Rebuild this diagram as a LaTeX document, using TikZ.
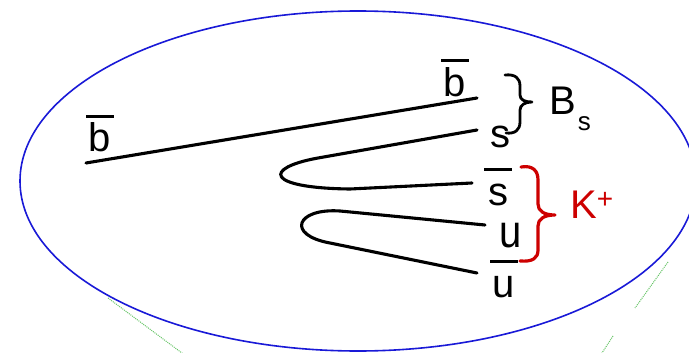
\documentclass[tikz,border=0pt]{standalone}
\usepackage{fontspec}
\setmainfont{Liberation Sans}
\usetikzlibrary{positioning}

\definecolor{bagblue}{RGB}{25,25,215}
\definecolor{kaonred}{RGB}{205,0,0}
\definecolor{dotgreen}{RGB}{100,195,100}

% 反夸克: 字母上方加一条横线
\newcommand{\qbar}[1]{\ooalign{\hfil#1\hfil\cr\hfil\rule[0.85em]{0.68em}{0.07em}\hfil\cr}}

\begin{document}
\begin{tikzpicture}[x=1pt,y=-1pt,
	quark/.style={line width=3.1pt, line cap=round, line join=round},
	curly/.style={line width=2.8pt, line cap=round, line join=round},
	qlabel/.style={font=\fontsize{40}{40}\selectfont, inner sep=0pt, anchor=base}]
	\useasboundingbox (0,0) rectangle (689,353);
	\clip (0,0) rectangle (689,353);

	% 1. 绿色虚点线 (在椭圆下面)
	\coordinate (gl1) at (108,298);
	\coordinate (gl2) at (186,356);
	\coordinate (gr1) at (668,262);
	\coordinate (gr2) at (635,308);
	\coordinate (gr3) at (613,336);
	\coordinate (gr4) at (600,356);
	\draw[dotgreen, densely dotted, line width=1pt] (gl1) -- (gl2);
	\draw[dotgreen, densely dotted, line width=1pt] (gr1) -- (gr2);
	\draw[dotgreen, densely dotted, line width=1pt] (gr3) -- (gr4);

	% 2. 蓝色椭圆
	\draw[bagblue, line width=1.6pt, fill=white] (358,181) ellipse [x radius=338, y radius=170];

	% 3. 夸克线
	% b-bar 直线
	\coordinate (bl) at (86,163);
	\coordinate (br) at (477,98);
	\draw[quark] (bl) -- (br);
	% s / s-bar 弯折
	\coordinate (s1) at (477,130);
	\coordinate (s2) at (472,183);
	\draw[quark] (s1) -- (318,158) .. controls (263,168) and (265,188) .. (350,189) -- (s2);
	% u / u-bar 弯折
	\coordinate (u1) at (485,225);
	\coordinate (u2) at (477,273);
	\draw[quark] (u1) -- (340,211) .. controls (296,208) and (286,235) .. (330,243) -- (u2);

	% 4. 夸克标签
	\node[qlabel] (lbl_bl) at (100,152) {\qbar{b}};
	\node[qlabel] (lbl_br) at (455,96) {\qbar{b}};
	\node[qlabel] (lbl_s) at (500,147) {s};
	\node[qlabel] (lbl_sb) at (498,205) {\qbar{s}};
	\node[qlabel] (lbl_u) at (511,247) {\scalebox{1}[1.15]{u}};
	\node[qlabel] (lbl_ub) at (504,297) {\qbar{u}};

	% 5. 大括号和强子名
	\draw[curly] (505,75) .. controls (515,74) and (520,78) .. (520,86) -- (520,95)
		.. controls (520,100) and (525,102) .. (532,102)
		.. controls (525,102) and (520,105) .. (520,110) -- (520,122)
		.. controls (520,130) and (515,134) .. (506,133);
	\node[qlabel, anchor=base west] (bs) at (549,115)
		{B\kern2pt\raisebox{-0.38em}{\fontsize{26}{26}\selectfont s}};

	\draw[curly, kaonred, line width=3.2pt] (521,167) .. controls (533,165) and (538,171) .. (538,180) -- (538,204)
		.. controls (538,211) and (544,215) .. (555,215)
		.. controls (544,215) and (538,219) .. (538,226) -- (538,250)
		.. controls (538,258) and (533,262) .. (520,261);
	\node[qlabel, anchor=base west, text=kaonred] (kp) at (570,218)
		{K\raisebox{0.235em}{\fontsize{28}{28}\selectfont +}};
\end{tikzpicture}
\end{document}
